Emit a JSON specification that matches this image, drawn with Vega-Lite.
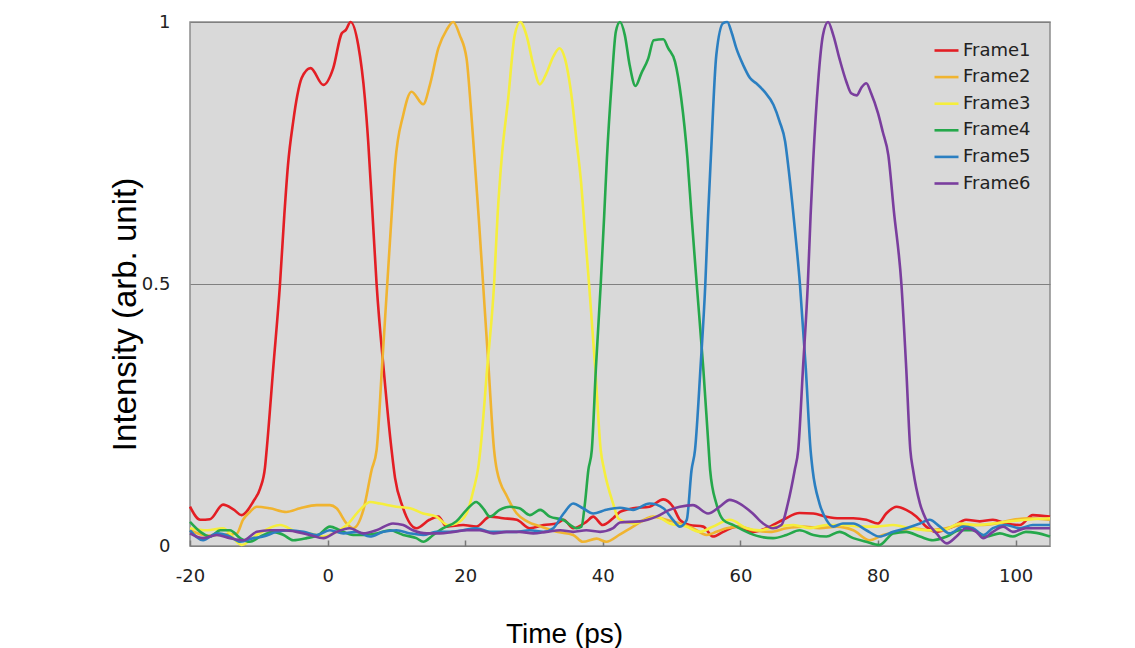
{
  "$schema": "https://vega.github.io/schema/vega-lite/v6.json",
  "autosize": {"type": "none"},
  "padding": {"left": 190, "top": 22, "right": 85, "bottom": 102},
  "width": 860,
  "height": 524,
  "background": "white",
  "view": {"fill": "#d9d9d9", "stroke": "#8c8c8c", "strokeWidth": 1.5},
  "data": {"values": [
{"f":"Frame1","t":-20,"v":0.075},{"f":"Frame1","t":-18.5,"v":0.05},{"f":"Frame1","t":-17.1,"v":0.051},{"f":"Frame1","t":-15.2,"v":0.079},{"f":"Frame1","t":-13.7,"v":0.07},{"f":"Frame1","t":-12.5,"v":0.059},{"f":"Frame1","t":-10.8,"v":0.085},{"f":"Frame1","t":-9.8,"v":0.11},{"f":"Frame1","t":-9.1,"v":0.15},{"f":"Frame1","t":-8.86,"v":0.183},{"f":"Frame1","t":-7.9,"v":0.34},{"f":"Frame1","t":-6.92,"v":0.5},{"f":"Frame1","t":-6.3,"v":0.63},{"f":"Frame1","t":-5.76,"v":0.727},{"f":"Frame1","t":-5.0,"v":0.81},{"f":"Frame1","t":-4.4,"v":0.86},{"f":"Frame1","t":-3.77,"v":0.893},{"f":"Frame1","t":-2.47,"v":0.912},{"f":"Frame1","t":-0.63,"v":0.88},{"f":"Frame1","t":0.82,"v":0.912},{"f":"Frame1","t":2.04,"v":0.978},{"f":"Frame1","t":2.66,"v":0.985},{"f":"Frame1","t":3.34,"v":1.0},{"f":"Frame1","t":4.45,"v":0.956},{"f":"Frame1","t":5.42,"v":0.854},{"f":"Frame1","t":5.91,"v":0.77},{"f":"Frame1","t":6.5,"v":0.64},{"f":"Frame1","t":7.12,"v":0.5},{"f":"Frame1","t":8.2,"v":0.33},{"f":"Frame1","t":9.3,"v":0.183},{"f":"Frame1","t":9.8,"v":0.13},{"f":"Frame1","t":10.9,"v":0.075},{"f":"Frame1","t":12.9,"v":0.034},{"f":"Frame1","t":14.8,"v":0.05},{"f":"Frame1","t":16.1,"v":0.056},{"f":"Frame1","t":17.3,"v":0.037},{"f":"Frame1","t":19.7,"v":0.04},{"f":"Frame1","t":21.6,"v":0.037},{"f":"Frame1","t":23.6,"v":0.056},{"f":"Frame1","t":25.5,"v":0.053},{"f":"Frame1","t":27.5,"v":0.05},{"f":"Frame1","t":29.4,"v":0.034},{"f":"Frame1","t":31.4,"v":0.04},{"f":"Frame1","t":33.3,"v":0.043},{"f":"Frame1","t":34.3,"v":0.05},{"f":"Frame1","t":35.7,"v":0.034},{"f":"Frame1","t":37.6,"v":0.046},{"f":"Frame1","t":38.6,"v":0.056},{"f":"Frame1","t":40.0,"v":0.04},{"f":"Frame1","t":41.5,"v":0.053},{"f":"Frame1","t":42.5,"v":0.065},{"f":"Frame1","t":44.4,"v":0.072},{"f":"Frame1","t":46.8,"v":0.075},{"f":"Frame1","t":48.8,"v":0.089},{"f":"Frame1","t":50.2,"v":0.075},{"f":"Frame1","t":51.2,"v":0.05},{"f":"Frame1","t":52.6,"v":0.04},{"f":"Frame1","t":54.6,"v":0.037},{"f":"Frame1","t":56.0,"v":0.018},{"f":"Frame1","t":57.5,"v":0.027},{"f":"Frame1","t":59.4,"v":0.037},{"f":"Frame1","t":61.8,"v":0.027},{"f":"Frame1","t":63.8,"v":0.034},{"f":"Frame1","t":66.2,"v":0.05},{"f":"Frame1","t":68.6,"v":0.063},{"f":"Frame1","t":70.6,"v":0.062},{"f":"Frame1","t":72.5,"v":0.056},{"f":"Frame1","t":74.4,"v":0.053},{"f":"Frame1","t":76.4,"v":0.053},{"f":"Frame1","t":78.3,"v":0.05},{"f":"Frame1","t":80.0,"v":0.043},{"f":"Frame1","t":81.2,"v":0.062},{"f":"Frame1","t":82.7,"v":0.075},{"f":"Frame1","t":84.1,"v":0.069},{"f":"Frame1","t":85.6,"v":0.056},{"f":"Frame1","t":87.0,"v":0.037},{"f":"Frame1","t":88.5,"v":0.027},{"f":"Frame1","t":90.9,"v":0.037},{"f":"Frame1","t":92.8,"v":0.05},{"f":"Frame1","t":94.8,"v":0.047},{"f":"Frame1","t":96.7,"v":0.05},{"f":"Frame1","t":98.6,"v":0.043},{"f":"Frame1","t":100.6,"v":0.04},{"f":"Frame1","t":102.5,"v":0.059},{"f":"Frame1","t":105,"v":0.056},
{"f":"Frame2","t":-20,"v":0.03},{"f":"Frame2","t":-17.5,"v":0.02},{"f":"Frame2","t":-15,"v":0.022},{"f":"Frame2","t":-13.2,"v":0.024},{"f":"Frame2","t":-12.3,"v":0.05},{"f":"Frame2","t":-11.3,"v":0.065},{"f":"Frame2","t":-10.3,"v":0.075},{"f":"Frame2","t":-8.4,"v":0.072},{"f":"Frame2","t":-6.0,"v":0.065},{"f":"Frame2","t":-4.0,"v":0.072},{"f":"Frame2","t":-1.6,"v":0.078},{"f":"Frame2","t":0.34,"v":0.078},{"f":"Frame2","t":1.3,"v":0.072},{"f":"Frame2","t":2.76,"v":0.043},{"f":"Frame2","t":3.7,"v":0.034},{"f":"Frame2","t":5.2,"v":0.069},{"f":"Frame2","t":6.4,"v":0.145},{"f":"Frame2","t":7.12,"v":0.183},{"f":"Frame2","t":7.9,"v":0.34},{"f":"Frame2","t":8.67,"v":0.5},{"f":"Frame2","t":9.3,"v":0.63},{"f":"Frame2","t":9.8,"v":0.727},{"f":"Frame2","t":11.0,"v":0.823},{"f":"Frame2","t":12.2,"v":0.867},{"f":"Frame2","t":13.9,"v":0.843},{"f":"Frame2","t":14.87,"v":0.88},{"f":"Frame2","t":16.1,"v":0.95},{"f":"Frame2","t":17.3,"v":0.985},{"f":"Frame2","t":18.26,"v":1.0},{"f":"Frame2","t":19.2,"v":0.975},{"f":"Frame2","t":20.2,"v":0.93},{"f":"Frame2","t":20.8,"v":0.84},{"f":"Frame2","t":21.3,"v":0.75},{"f":"Frame2","t":22.0,"v":0.62},{"f":"Frame2","t":22.6,"v":0.5},{"f":"Frame2","t":23.4,"v":0.34},{"f":"Frame2","t":24.2,"v":0.183},{"f":"Frame2","t":24.6,"v":0.145},{"f":"Frame2","t":26.1,"v":0.094},{"f":"Frame2","t":27.5,"v":0.062},{"f":"Frame2","t":29.0,"v":0.047},{"f":"Frame2","t":31.0,"v":0.037},{"f":"Frame2","t":33.3,"v":0.027},{"f":"Frame2","t":35.7,"v":0.021},{"f":"Frame2","t":37.1,"v":0.008},{"f":"Frame2","t":39.1,"v":0.014},{"f":"Frame2","t":40.5,"v":0.008},{"f":"Frame2","t":42.5,"v":0.022},{"f":"Frame2","t":44.4,"v":0.037},{"f":"Frame2","t":47.3,"v":0.056},{"f":"Frame2","t":49.2,"v":0.05},{"f":"Frame2","t":51.2,"v":0.043},{"f":"Frame2","t":53.1,"v":0.034},{"f":"Frame2","t":55.1,"v":0.021},{"f":"Frame2","t":56.5,"v":0.027},{"f":"Frame2","t":58.0,"v":0.034},{"f":"Frame2","t":59.9,"v":0.037},{"f":"Frame2","t":61.8,"v":0.03},{"f":"Frame2","t":64.3,"v":0.027},{"f":"Frame2","t":66.7,"v":0.034},{"f":"Frame2","t":69.1,"v":0.037},{"f":"Frame2","t":71.5,"v":0.034},{"f":"Frame2","t":74.0,"v":0.037},{"f":"Frame2","t":76.4,"v":0.03},{"f":"Frame2","t":78.8,"v":0.011},{"f":"Frame2","t":80.7,"v":0.021},{"f":"Frame2","t":82.7,"v":0.027},{"f":"Frame2","t":85.1,"v":0.034},{"f":"Frame2","t":87.5,"v":0.03},{"f":"Frame2","t":89.9,"v":0.034},{"f":"Frame2","t":92.4,"v":0.04},{"f":"Frame2","t":94.8,"v":0.04},{"f":"Frame2","t":97.2,"v":0.043},{"f":"Frame2","t":99.6,"v":0.05},{"f":"Frame2","t":102.0,"v":0.053},{"f":"Frame2","t":105,"v":0.05},
{"f":"Frame3","t":-20,"v":0.034},{"f":"Frame3","t":-17.5,"v":0.03},{"f":"Frame3","t":-15.2,"v":0.034},{"f":"Frame3","t":-12.5,"v":0.002},{"f":"Frame3","t":-10.3,"v":0.021},{"f":"Frame3","t":-6.9,"v":0.04},{"f":"Frame3","t":-4.5,"v":0.027},{"f":"Frame3","t":-2.6,"v":0.024},{"f":"Frame3","t":-0.6,"v":0.018},{"f":"Frame3","t":1.3,"v":0.027},{"f":"Frame3","t":2.8,"v":0.04},{"f":"Frame3","t":4.7,"v":0.069},{"f":"Frame3","t":6.2,"v":0.084},{"f":"Frame3","t":7.6,"v":0.081},{"f":"Frame3","t":10.0,"v":0.075},{"f":"Frame3","t":12.0,"v":0.072},{"f":"Frame3","t":13.9,"v":0.062},{"f":"Frame3","t":15.8,"v":0.056},{"f":"Frame3","t":17.5,"v":0.04},{"f":"Frame3","t":18.7,"v":0.043},{"f":"Frame3","t":20.2,"v":0.062},{"f":"Frame3","t":21.2,"v":0.107},{"f":"Frame3","t":21.9,"v":0.15},{"f":"Frame3","t":22.2,"v":0.183},{"f":"Frame3","t":23.2,"v":0.34},{"f":"Frame3","t":24.2,"v":0.5},{"f":"Frame3","t":24.7,"v":0.63},{"f":"Frame3","t":25.3,"v":0.74},{"f":"Frame3","t":26.25,"v":0.854},{"f":"Frame3","t":27.2,"v":0.975},{"f":"Frame3","t":28.0,"v":1.0},{"f":"Frame3","t":28.9,"v":0.975},{"f":"Frame3","t":29.9,"v":0.918},{"f":"Frame3","t":30.85,"v":0.881},{"f":"Frame3","t":31.8,"v":0.902},{"f":"Frame3","t":32.8,"v":0.934},{"f":"Frame3","t":33.7,"v":0.95},{"f":"Frame3","t":34.5,"v":0.93},{"f":"Frame3","t":35.5,"v":0.854},{"f":"Frame3","t":36.2,"v":0.771},{"f":"Frame3","t":36.8,"v":0.7},{"f":"Frame3","t":37.4,"v":0.6},{"f":"Frame3","t":38.0,"v":0.5},{"f":"Frame3","t":38.9,"v":0.34},{"f":"Frame3","t":39.7,"v":0.183},{"f":"Frame3","t":40.2,"v":0.145},{"f":"Frame3","t":41.5,"v":0.081},{"f":"Frame3","t":42.3,"v":0.052},{"f":"Frame3","t":44.4,"v":0.043},{"f":"Frame3","t":46.3,"v":0.05},{"f":"Frame3","t":47.8,"v":0.056},{"f":"Frame3","t":49.7,"v":0.043},{"f":"Frame3","t":52.1,"v":0.037},{"f":"Frame3","t":54.1,"v":0.027},{"f":"Frame3","t":56.0,"v":0.037},{"f":"Frame3","t":58.5,"v":0.05},{"f":"Frame3","t":60.9,"v":0.034},{"f":"Frame3","t":62.8,"v":0.03},{"f":"Frame3","t":65.2,"v":0.037},{"f":"Frame3","t":67.7,"v":0.04},{"f":"Frame3","t":70.1,"v":0.034},{"f":"Frame3","t":72.5,"v":0.04},{"f":"Frame3","t":74.9,"v":0.04},{"f":"Frame3","t":77.3,"v":0.037},{"f":"Frame3","t":79.8,"v":0.037},{"f":"Frame3","t":82.2,"v":0.04},{"f":"Frame3","t":84.6,"v":0.034},{"f":"Frame3","t":87.0,"v":0.03},{"f":"Frame3","t":89.4,"v":0.03},{"f":"Frame3","t":91.9,"v":0.043},{"f":"Frame3","t":94.3,"v":0.04},{"f":"Frame3","t":96.7,"v":0.043},{"f":"Frame3","t":99.1,"v":0.047},{"f":"Frame3","t":101.5,"v":0.05},{"f":"Frame3","t":105,"v":0.053},
{"f":"Frame4","t":-20,"v":0.046},{"f":"Frame4","t":-18.5,"v":0.027},{"f":"Frame4","t":-17.1,"v":0.018},{"f":"Frame4","t":-15.6,"v":0.03},{"f":"Frame4","t":-14.2,"v":0.03},{"f":"Frame4","t":-12.7,"v":0.015},{"f":"Frame4","t":-11.3,"v":0.008},{"f":"Frame4","t":-9.8,"v":0.018},{"f":"Frame4","t":-7.9,"v":0.027},{"f":"Frame4","t":-6.4,"v":0.021},{"f":"Frame4","t":-5.0,"v":0.011},{"f":"Frame4","t":-3.05,"v":0.015},{"f":"Frame4","t":-1.35,"v":0.021},{"f":"Frame4","t":0.34,"v":0.037},{"f":"Frame4","t":1.8,"v":0.03},{"f":"Frame4","t":3.7,"v":0.021},{"f":"Frame4","t":5.2,"v":0.021},{"f":"Frame4","t":7.1,"v":0.024},{"f":"Frame4","t":9.05,"v":0.03},{"f":"Frame4","t":11.0,"v":0.021},{"f":"Frame4","t":12.9,"v":0.015},{"f":"Frame4","t":13.9,"v":0.008},{"f":"Frame4","t":15.35,"v":0.021},{"f":"Frame4","t":16.8,"v":0.034},{"f":"Frame4","t":18.7,"v":0.047},{"f":"Frame4","t":20.2,"v":0.069},{"f":"Frame4","t":21.6,"v":0.084},{"f":"Frame4","t":22.6,"v":0.072},{"f":"Frame4","t":23.6,"v":0.056},{"f":"Frame4","t":25.0,"v":0.069},{"f":"Frame4","t":26.5,"v":0.075},{"f":"Frame4","t":27.9,"v":0.072},{"f":"Frame4","t":29.4,"v":0.059},{"f":"Frame4","t":30.9,"v":0.069},{"f":"Frame4","t":32.3,"v":0.056},{"f":"Frame4","t":34.2,"v":0.05},{"f":"Frame4","t":36.2,"v":0.034},{"f":"Frame4","t":36.9,"v":0.037},{"f":"Frame4","t":37.4,"v":0.081},{"f":"Frame4","t":37.9,"v":0.145},{"f":"Frame4","t":38.4,"v":0.183},{"f":"Frame4","t":39.0,"v":0.34},{"f":"Frame4","t":39.7,"v":0.5},{"f":"Frame4","t":40.2,"v":0.63},{"f":"Frame4","t":40.6,"v":0.74},{"f":"Frame4","t":41.3,"v":0.886},{"f":"Frame4","t":41.9,"v":0.982},{"f":"Frame4","t":42.5,"v":1.0},{"f":"Frame4","t":43.2,"v":0.975},{"f":"Frame4","t":43.9,"v":0.918},{"f":"Frame4","t":44.75,"v":0.878},{"f":"Frame4","t":45.6,"v":0.902},{"f":"Frame4","t":46.6,"v":0.93},{"f":"Frame4","t":47.4,"v":0.965},{"f":"Frame4","t":48.8,"v":0.967},{"f":"Frame4","t":49.5,"v":0.95},{"f":"Frame4","t":50.5,"v":0.924},{"f":"Frame4","t":51.4,"v":0.854},{"f":"Frame4","t":52.3,"v":0.74},{"f":"Frame4","t":52.9,"v":0.63},{"f":"Frame4","t":53.65,"v":0.5},{"f":"Frame4","t":54.6,"v":0.34},{"f":"Frame4","t":55.4,"v":0.183},{"f":"Frame4","t":55.6,"v":0.145},{"f":"Frame4","t":56.5,"v":0.081},{"f":"Frame4","t":57.5,"v":0.05},{"f":"Frame4","t":59.0,"v":0.04},{"f":"Frame4","t":60.9,"v":0.027},{"f":"Frame4","t":62.8,"v":0.018},{"f":"Frame4","t":64.75,"v":0.015},{"f":"Frame4","t":66.7,"v":0.021},{"f":"Frame4","t":68.6,"v":0.03},{"f":"Frame4","t":70.6,"v":0.021},{"f":"Frame4","t":72.5,"v":0.018},{"f":"Frame4","t":74.4,"v":0.027},{"f":"Frame4","t":76.4,"v":0.015},{"f":"Frame4","t":78.3,"v":0.008},{"f":"Frame4","t":80.2,"v":0.002},{"f":"Frame4","t":82.2,"v":0.024},{"f":"Frame4","t":84.1,"v":0.027},{"f":"Frame4","t":86.1,"v":0.018},{"f":"Frame4","t":88.0,"v":0.011},{"f":"Frame4","t":90.0,"v":0.018},{"f":"Frame4","t":91.9,"v":0.03},{"f":"Frame4","t":93.8,"v":0.03},{"f":"Frame4","t":95.7,"v":0.018},{"f":"Frame4","t":97.7,"v":0.024},{"f":"Frame4","t":99.6,"v":0.018},{"f":"Frame4","t":101.5,"v":0.027},{"f":"Frame4","t":103,"v":0.025},{"f":"Frame4","t":105,"v":0.018},
{"f":"Frame5","t":-20,"v":0.03},{"f":"Frame5","t":-18.1,"v":0.011},{"f":"Frame5","t":-16.1,"v":0.024},{"f":"Frame5","t":-14.2,"v":0.018},{"f":"Frame5","t":-12.7,"v":0.008},{"f":"Frame5","t":-10.8,"v":0.015},{"f":"Frame5","t":-9.35,"v":0.018},{"f":"Frame5","t":-7.4,"v":0.027},{"f":"Frame5","t":-5.5,"v":0.03},{"f":"Frame5","t":-3.5,"v":0.027},{"f":"Frame5","t":-1.6,"v":0.021},{"f":"Frame5","t":0.34,"v":0.03},{"f":"Frame5","t":2.3,"v":0.024},{"f":"Frame5","t":4.2,"v":0.027},{"f":"Frame5","t":6.15,"v":0.018},{"f":"Frame5","t":8.1,"v":0.027},{"f":"Frame5","t":10.0,"v":0.03},{"f":"Frame5","t":12.0,"v":0.024},{"f":"Frame5","t":13.9,"v":0.021},{"f":"Frame5","t":15.8,"v":0.027},{"f":"Frame5","t":17.8,"v":0.027},{"f":"Frame5","t":19.7,"v":0.03},{"f":"Frame5","t":21.6,"v":0.034},{"f":"Frame5","t":23.6,"v":0.027},{"f":"Frame5","t":25.5,"v":0.027},{"f":"Frame5","t":27.5,"v":0.027},{"f":"Frame5","t":29.4,"v":0.03},{"f":"Frame5","t":31.4,"v":0.027},{"f":"Frame5","t":32.8,"v":0.034},{"f":"Frame5","t":34.3,"v":0.062},{"f":"Frame5","t":35.7,"v":0.081},{"f":"Frame5","t":37.1,"v":0.072},{"f":"Frame5","t":38.6,"v":0.062},{"f":"Frame5","t":40.5,"v":0.069},{"f":"Frame5","t":42.5,"v":0.073},{"f":"Frame5","t":44.4,"v":0.069},{"f":"Frame5","t":46.8,"v":0.081},{"f":"Frame5","t":48.8,"v":0.072},{"f":"Frame5","t":50.2,"v":0.05},{"f":"Frame5","t":51.2,"v":0.037},{"f":"Frame5","t":52.2,"v":0.05},{"f":"Frame5","t":52.9,"v":0.145},{"f":"Frame5","t":53.4,"v":0.183},{"f":"Frame5","t":54.2,"v":0.34},{"f":"Frame5","t":54.9,"v":0.5},{"f":"Frame5","t":55.3,"v":0.63},{"f":"Frame5","t":55.7,"v":0.74},{"f":"Frame5","t":56.5,"v":0.937},{"f":"Frame5","t":57.5,"v":0.998},{"f":"Frame5","t":58.1,"v":1.0},{"f":"Frame5","t":58.7,"v":0.981},{"f":"Frame5","t":59.4,"v":0.95},{"f":"Frame5","t":60.4,"v":0.918},{"f":"Frame5","t":61.4,"v":0.893},{"f":"Frame5","t":62.3,"v":0.883},{"f":"Frame5","t":63.5,"v":0.867},{"f":"Frame5","t":64.8,"v":0.842},{"f":"Frame5","t":65.7,"v":0.81},{"f":"Frame5","t":66.5,"v":0.772},{"f":"Frame5","t":67.0,"v":0.72},{"f":"Frame5","t":67.8,"v":0.62},{"f":"Frame5","t":68.65,"v":0.5},{"f":"Frame5","t":69.5,"v":0.34},{"f":"Frame5","t":70.2,"v":0.183},{"f":"Frame5","t":70.5,"v":0.145},{"f":"Frame5","t":71.5,"v":0.081},{"f":"Frame5","t":72.5,"v":0.05},{"f":"Frame5","t":73.5,"v":0.037},{"f":"Frame5","t":74.9,"v":0.043},{"f":"Frame5","t":76.4,"v":0.043},{"f":"Frame5","t":78.3,"v":0.03},{"f":"Frame5","t":80.2,"v":0.018},{"f":"Frame5","t":82.2,"v":0.027},{"f":"Frame5","t":84.1,"v":0.034},{"f":"Frame5","t":86.1,"v":0.043},{"f":"Frame5","t":87.5,"v":0.05},{"f":"Frame5","t":89.0,"v":0.037},{"f":"Frame5","t":90.4,"v":0.024},{"f":"Frame5","t":92.4,"v":0.037},{"f":"Frame5","t":93.8,"v":0.034},{"f":"Frame5","t":95.3,"v":0.021},{"f":"Frame5","t":96.7,"v":0.034},{"f":"Frame5","t":98.6,"v":0.04},{"f":"Frame5","t":100.6,"v":0.034},{"f":"Frame5","t":102.5,"v":0.04},{"f":"Frame5","t":105,"v":0.04},
{"f":"Frame6","t":-20,"v":0.024},{"f":"Frame6","t":-18.1,"v":0.015},{"f":"Frame6","t":-16.1,"v":0.021},{"f":"Frame6","t":-14.2,"v":0.015},{"f":"Frame6","t":-12.25,"v":0.011},{"f":"Frame6","t":-10.3,"v":0.027},{"f":"Frame6","t":-8.4,"v":0.03},{"f":"Frame6","t":-6.4,"v":0.03},{"f":"Frame6","t":-4.5,"v":0.027},{"f":"Frame6","t":-2.6,"v":0.021},{"f":"Frame6","t":-0.6,"v":0.015},{"f":"Frame6","t":1.3,"v":0.027},{"f":"Frame6","t":3.2,"v":0.034},{"f":"Frame6","t":5.2,"v":0.024},{"f":"Frame6","t":7.1,"v":0.03},{"f":"Frame6","t":9.5,"v":0.043},{"f":"Frame6","t":11.0,"v":0.04},{"f":"Frame6","t":12.4,"v":0.03},{"f":"Frame6","t":14.4,"v":0.024},{"f":"Frame6","t":16.3,"v":0.024},{"f":"Frame6","t":18.3,"v":0.027},{"f":"Frame6","t":20.2,"v":0.03},{"f":"Frame6","t":22.1,"v":0.03},{"f":"Frame6","t":24.1,"v":0.024},{"f":"Frame6","t":26.0,"v":0.027},{"f":"Frame6","t":27.9,"v":0.027},{"f":"Frame6","t":29.9,"v":0.024},{"f":"Frame6","t":31.8,"v":0.027},{"f":"Frame6","t":33.8,"v":0.03},{"f":"Frame6","t":35.7,"v":0.027},{"f":"Frame6","t":37.6,"v":0.03},{"f":"Frame6","t":39.6,"v":0.027},{"f":"Frame6","t":41.5,"v":0.034},{"f":"Frame6","t":42.5,"v":0.045},{"f":"Frame6","t":45.4,"v":0.047},{"f":"Frame6","t":47.8,"v":0.056},{"f":"Frame6","t":49.7,"v":0.069},{"f":"Frame6","t":51.2,"v":0.075},{"f":"Frame6","t":53.1,"v":0.078},{"f":"Frame6","t":55.3,"v":0.062},{"f":"Frame6","t":57.0,"v":0.075},{"f":"Frame6","t":58.45,"v":0.088},{"f":"Frame6","t":59.9,"v":0.081},{"f":"Frame6","t":61.8,"v":0.062},{"f":"Frame6","t":63.3,"v":0.043},{"f":"Frame6","t":64.75,"v":0.034},{"f":"Frame6","t":65.96,"v":0.04},{"f":"Frame6","t":66.9,"v":0.081},{"f":"Frame6","t":67.9,"v":0.145},{"f":"Frame6","t":68.4,"v":0.183},{"f":"Frame6","t":69.1,"v":0.34},{"f":"Frame6","t":69.8,"v":0.5},{"f":"Frame6","t":70.2,"v":0.63},{"f":"Frame6","t":70.6,"v":0.74},{"f":"Frame6","t":71.3,"v":0.886},{"f":"Frame6","t":72.0,"v":0.975},{"f":"Frame6","t":72.74,"v":1.0},{"f":"Frame6","t":73.5,"v":0.975},{"f":"Frame6","t":74.4,"v":0.93},{"f":"Frame6","t":75.4,"v":0.886},{"f":"Frame6","t":76.1,"v":0.864},{"f":"Frame6","t":76.9,"v":0.86},{"f":"Frame6","t":77.6,"v":0.875},{"f":"Frame6","t":78.3,"v":0.883},{"f":"Frame6","t":79.0,"v":0.864},{"f":"Frame6","t":80.0,"v":0.826},{"f":"Frame6","t":80.7,"v":0.79},{"f":"Frame6","t":81.5,"v":0.746},{"f":"Frame6","t":82.3,"v":0.64},{"f":"Frame6","t":83.4,"v":0.5},{"f":"Frame6","t":84.1,"v":0.34},{"f":"Frame6","t":84.7,"v":0.183},{"f":"Frame6","t":85.1,"v":0.145},{"f":"Frame6","t":86.1,"v":0.081},{"f":"Frame6","t":87.0,"v":0.05},{"f":"Frame6","t":88.5,"v":0.024},{"f":"Frame6","t":90.0,"v":0.005},{"f":"Frame6","t":91.4,"v":0.018},{"f":"Frame6","t":92.8,"v":0.034},{"f":"Frame6","t":94.3,"v":0.027},{"f":"Frame6","t":95.3,"v":0.015},{"f":"Frame6","t":96.7,"v":0.027},{"f":"Frame6","t":98.2,"v":0.037},{"f":"Frame6","t":99.6,"v":0.027},{"f":"Frame6","t":101.5,"v":0.034},{"f":"Frame6","t":105,"v":0.034}
  ]},
  "mark": {"type": "line", "strokeWidth": 2.6, "interpolate": "monotone"},
  "encoding": {
    "x": {
      "field": "t", "type": "quantitative",
      "scale": {"domain": [-20, 105], "nice": false, "zero": false},
      "axis": {
        "title": "Time (ps)",
        "values": [-20, 0, 20, 40, 60, 80, 100],
        "labelExpr": "datum.value < 0 ? '-' + abs(datum.value) : '' + datum.value",
        "labelFlush": false,
        "grid": false,
        "domain": false,
        "ticks": true, "tickSize": -6, "tickColor": "#777", "tickWidth": 1.5,
        "labelFont": "DejaVu Sans", "labelFontSize": 18, "labelColor": "#222",
        "labelPadding": 27,
        "titleFont": "Liberation Sans", "titleFontSize": 28, "titleFontWeight": "normal", "titleColor": "#000",
        "titleX": 374, "titleY": 96, "titleBaseline": "alphabetic", "titleAlign": "center"
      }
    },
    "y": {
      "field": "v", "type": "quantitative",
      "scale": {"domain": [0, 1], "nice": false},
      "axis": {
        "title": "Intensity (arb. unit)",
        "values": [0, 0.5, 1],
        "format": "~g",
        "labelFlush": false,
        "grid": true, "gridColor": "#808080", "gridWidth": 1,
        "domain": false, "ticks": false,
        "labelFont": "DejaVu Sans", "labelFontSize": 18, "labelColor": "#222",
        "labelPadding": 20,
        "titleFont": "Liberation Sans", "titleFontSize": 33, "titleFontWeight": "normal", "titleColor": "#000",
        "titleAngle": -90, "titleX": -55, "titleY": 292, "titleAlign": "center", "titleBaseline": "alphabetic"
      }
    },
    "color": {
      "field": "f", "type": "nominal",
      "scale": {
        "domain": ["Frame1", "Frame2", "Frame3", "Frame4", "Frame5", "Frame6"],
        "range": ["#e31e24", "#f0b430", "#f5ee3c", "#25a84b", "#2b7fc1", "#7a3e9e"]
      },
      "legend": {
        "title": null, "orient": "none", "legendX": 743, "legendY": 15,
        "padding": 0,
        "symbolType": "stroke", "symbolStrokeWidth": 2.6, "symbolSize": 576,
        "labelFont": "DejaVu Sans", "labelFontSize": 18, "labelColor": "#222",
        "labelOffset": 3, "rowPadding": 3.6
      }
    }
  }
}
